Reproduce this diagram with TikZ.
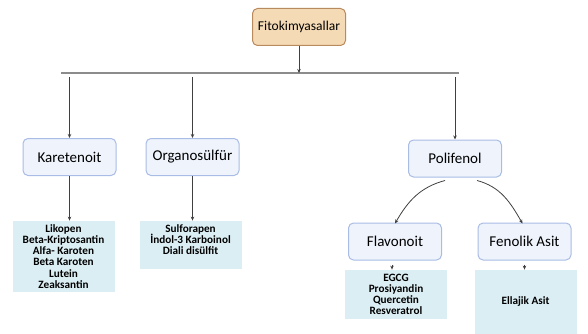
\documentclass[tikz,border=0pt]{standalone}
\usepackage{fontspec}
\setmainfont{Carlito}
\usetikzlibrary{positioning, calc, arrows.meta}

\definecolor{rootfill}{HTML}{F5DAB6}
\definecolor{rootedge}{HTML}{B98A5E}
\definecolor{catfill}{HTML}{EEF3FC}
\definecolor{catedge}{HTML}{A9BCE6}
\definecolor{listfill}{HTML}{DBEEF4}
\definecolor{barline}{HTML}{8C8C8C}

\begin{document}
\begin{tikzpicture}[>={Stealth[length=4pt, width=3.5pt]}, x=1pt, y=1pt, node distance=1cm, on grid, thick,
		root/.style={draw=rootedge, fill=rootfill, rounded corners=5pt, line width=1pt, minimum width=93pt, minimum height=37pt, font=\fontsize{13.5}{15}\selectfont},
		cat/.style={draw=catedge, fill=catfill, rounded corners=5pt, line width=1pt, minimum width=93pt, minimum height=37pt, font=\fontsize{15}{17}\selectfont},
		list/.style={fill=listfill, align=center, minimum width=102pt, inner sep=2pt, font=\fontsize{11.2}{11.2}\selectfont\bfseries},
		conn/.style={->, draw=black!75, line width=0.8pt}]
		\useasboundingbox (0,0) rectangle (588,-334);

		%Kutular:
		\node[root]								(F) at (299,-27)		{Fitokimyasallar};
		\node[cat]								(K) at (69.5,-157)		{Karetenoit};
		\node[cat]								(O) [right=123pt of K]	{Organosülfür};
		\node[cat]								(P) at (455,-158.5)		{Polifenol};
		\node[cat]								(Fl) at (395,-241.5)	{Flavonoit};
		\node[cat]								(Fn) [right=129.5pt of Fl]	{Fenolik Asit};

		%Listeler:
		\node[list, minimum height=71pt]		(KL) at (63.5,-256.5)	{Likopen\\Beta-Kriptosantin\\Alfa- Karoten\\Beta Karoten\\Lutein\\Zeaksantin};
		\node[list, minimum height=48pt]		(OL) at (190.5,-245)	{Sulforapen\\İndol-3 Karboinol\\Diali disülfit\\~};
		\node[list, minimum height=49pt]		(FlL) at (396,-294.5)	{EGCG\\Prosiyandin\\Quercetin\\Resveratrol};
		\node[list, minimum height=64pt]		(FnL) at (525.5,-302)	{Ellajik Asit};

		%Yatay hat:
		\coordinate (barL) at (61,-73);
		\coordinate (barR) at (459,-73);
		\draw[barline, line width=1.6pt] (barL) -- (barR);

		%Oklar:
		\draw[conn] (F.south) -- (F.south |- barL);
		\draw[conn] ($(K.north |- barL)+(0,-4)$) -- (K.north);
		\draw[conn] ($(O.north |- barL)+(0,-4)$) -- (O.north);
		\draw[conn] ($(P.north |- barL)+(0,-4)$) -- (P.north);
		\draw[conn] (K.south) -- (K.south |- KL.north);
		\draw[conn] (O.south) -- (O.south |- OL.north);
		\draw[conn] ($(P.south)+(-10,-3)$) to[out=195, in=60] ($(Fl.north)+(0,-1)$);
		\draw[conn] ($(P.south)+(22,-3)$) to[out=-15, in=120] ($(Fn.north)+(-2,-1)$);
		\draw[conn] ($(Fl.south)+(-3,-4)$) -- ($(Fl.south |- FlL.north)+(-3,0)$);
		\draw[conn] ($(Fn.south)+(0,-4)$) -- (Fn.south |- FnL.north);
	\end{tikzpicture}
\end{document}
